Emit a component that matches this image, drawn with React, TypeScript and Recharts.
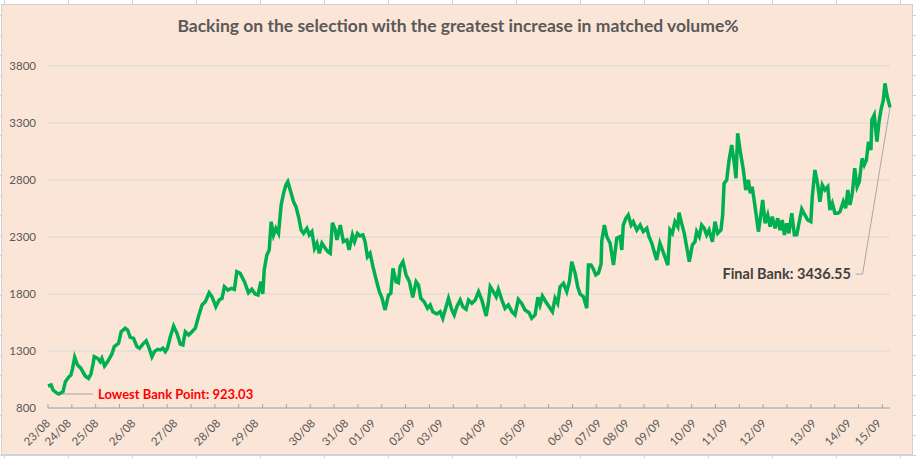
import React from 'react';
import { LineChart, Line, XAxis, YAxis, CartesianGrid, ReferenceLine } from 'recharts';

// running bank after each bet (x = bet number)
const betNumbers = [
  0, 13, 21, 38, 45, 63, 73, 86, 96, 103, 112, 124, 138, 156, 170, 180, 189, 194, 208, 219,
  226, 237, 247, 258, 268, 278, 296, 307, 324, 334, 345, 359, 373, 384, 398, 412, 422, 436, 446, 460,
  471, 482, 492, 501, 513, 527, 541, 555, 566, 576, 590, 604, 618, 631, 646, 660, 676, 688, 704, 718,
  730, 740, 755, 769, 782, 792, 806, 824, 841, 855, 869, 881, 893, 901, 907, 918, 928, 936, 946, 956,
  967, 978, 988, 998, 1006, 1016, 1030, 1040, 1051, 1062, 1072, 1086, 1096, 1107, 1118, 1128, 1138, 1149, 1163, 1174,
  1184, 1193, 1205, 1212, 1226, 1239, 1254, 1263, 1277, 1286, 1298, 1309, 1321, 1330, 1340, 1351, 1363, 1377, 1390, 1400,
  1414, 1428, 1438, 1447, 1460, 1470, 1477, 1489, 1502, 1516, 1530, 1544, 1554, 1564, 1578, 1592, 1603, 1614, 1631, 1645,
  1656, 1670, 1680, 1694, 1704, 1715, 1729, 1740, 1754, 1764, 1778, 1792, 1806, 1820, 1838, 1847, 1855, 1868, 1880, 1889,
  1904, 1917, 1931, 1946, 1959, 1973, 1987, 2001, 2018, 2029, 2043, 2055, 2064, 2074, 2088, 2102, 2116, 2127, 2138, 2148,
  2162, 2176, 2187, 2197, 2211, 2222, 2232, 2246, 2260, 2267, 2278, 2288, 2298, 2309, 2320, 2323, 2334, 2344, 2358, 2372,
  2386, 2400, 2407, 2413, 2424, 2434, 2446, 2455, 2470, 2484, 2497, 2512, 2521, 2533, 2543, 2553, 2567, 2585, 2600, 2609,
  2619, 2630, 2642, 2647, 2658, 2669, 2679, 2690, 2703, 2714, 2721, 2732, 2742, 2753, 2763, 2773, 2787, 2798, 2809, 2823,
  2830, 2836, 2847, 2857, 2868, 2879, 2886, 2893, 2904, 2917, 2927, 2938, 2946, 2954, 2966, 2980, 2991, 2998, 3008, 3019,
  3029, 3038, 3050, 3061, 3071, 3080, 3089, 3099, 3108, 3120, 3131, 3141, 3150, 3162, 3173, 3187, 3200, 3206, 3217, 3229,
  3238, 3248, 3259, 3271, 3280, 3290, 3301, 3313, 3322, 3336, 3346, 3355, 3364, 3374, 3384, 3394, 3403, 3415, 3424, 3433,
  3442, 3452, 3456, 3466, 3477, 3486, 3494, 3504, 3511, 3519, 3532,
];

const bankValues = [
  993, 1002, 958, 929, 923.03, 943, 1031, 1069, 1089, 1148, 1245, 1177, 1148, 1081, 1060, 1098, 1186, 1250, 1236, 1206,
  1236, 1168, 1197, 1236, 1274, 1338, 1367, 1469, 1499, 1484, 1420, 1411, 1338, 1324, 1361, 1390, 1338, 1250, 1294, 1315,
  1309, 1324, 1294, 1324, 1425, 1519, 1455, 1361, 1353, 1469, 1440, 1469, 1500, 1601, 1703, 1732, 1811, 1776, 1689, 1747,
  1762, 1864, 1835, 1850, 1841, 1996, 1982, 1908, 1811, 1841, 1800, 1791, 1908, 1800, 2011, 2142, 2186, 2434, 2318, 2376,
  2332, 2581, 2683, 2756, 2785, 2712, 2610, 2566, 2478, 2361, 2332, 2376, 2318, 2347, 2201, 2245, 2157, 2245, 2201, 2171,
  2157, 2425, 2361, 2274, 2405, 2259, 2274, 2186, 2318, 2259, 2332, 2309, 2318, 2259, 2127, 2157, 2040, 1923, 1820, 1771,
  1660, 1791, 1806, 2025, 1908, 1899, 2040, 2084, 1967, 1908, 1771, 1908, 1879, 1762, 1732, 1675, 1704, 1645, 1625, 1645,
  1587, 1689, 1762, 1660, 1616, 1689, 1747, 1689, 1666, 1747, 1718, 1747, 1820, 1747, 1607, 1718, 1864, 1820, 1776, 1841,
  1747, 1675, 1704, 1645, 1616, 1753, 1718, 1660, 1636, 1587, 1616, 1771, 1704, 1782, 1732, 1689, 1645, 1762, 1718, 1864,
  1894, 1820, 1908, 2084, 1982, 1864, 1800, 1776, 1675, 2054, 2054, 2017, 1967, 1982, 2063, 2268, 2405, 2303, 2245, 2054,
  2289, 2303, 2186, 2405, 2464, 2493, 2405, 2434, 2361, 2405, 2347, 2376, 2303, 2245, 2171, 2098, 2245, 2142, 2054, 2361,
  2332, 2434, 2390, 2513, 2420, 2332, 2215, 2084, 2230, 2259, 2347, 2303, 2405, 2376, 2318, 2361, 2259, 2434, 2332, 2361,
  2493, 2771, 2800, 2975, 3107, 2946, 2815, 3210, 3049, 2888, 2712, 2800, 2683, 2741, 2566, 2347, 2508, 2625, 2420, 2493,
  2390, 2478, 2376, 2464, 2361, 2449, 2318, 2420, 2332, 2508, 2318, 2320, 2420, 2545, 2500, 2449, 2434, 2654, 2888, 2756,
  2610, 2756, 2712, 2741, 2537, 2595, 2508, 2508, 2522, 2610, 2552, 2712, 2581, 2683, 2903, 2741, 2785, 2990, 2932, 2975,
  3136, 3063, 3326, 3370, 3136, 3311, 3414, 3502, 3648, 3546, 3436.55,
];

// first bet of each day, with its label
const dayLabels = [
  '23/08', '24/08', '25/08', '26/08', '27/08', '28/08', '29/08', '30/08', '31/08', '01/09', '02/09', '03/09',
  '04/09', '05/09', '06/09', '07/09', '08/09', '09/09', '10/09', '11/09', '12/09', '13/09', '14/09', '15/09',
];
const dayStartBets = [
  0, 88, 202, 358, 534, 714, 873, 1112, 1251, 1364, 1532, 1649,
  1830, 1997, 2198, 2312, 2429, 2563, 2710, 2844, 3003, 3213, 3360, 3486,
];

const bankTicks = [800, 1300, 1800, 2300, 2800, 3300, 3800];

const lowestBank = 923.03;
const lowestBet = 45;
const finalBank = 3436.55;
const lastBet = 3532;

const chartData = betNumbers.map((bet, i) => ({ bet, bank: bankValues[i] }));

// tick marks every 100 bets, day labels where a new day starts
const markStep = 100;
const markBets = Array.from({ length: Math.floor(lastBet / markStep) + 1 }, (_, i) => i * markStep);
const allTicks = Array.from(new Set([...markBets, ...dayStartBets])).sort((a, b) => a - b);

const FONT = 'Lato, "Open Sans", sans-serif';
const TEXT = '#595959';

function DayTick(props: any) {
  const { x, y, payload } = props;
  const v = payload.value;
  const idx = dayStartBets.indexOf(v);
  return (
    <g>
      {v % markStep === 0 && <line x1={x} y1={y} x2={x} y2={y - 4} stroke="#a6a6a6" strokeWidth={1} />}
      {idx >= 0 && (
        <text
          transform={`translate(${x + 3},${y + 16}) rotate(-45)`}
          textAnchor="end"
          fontSize={11.5}
          fontFamily={FONT}
          fill={TEXT}
        >
          {dayLabels[idx]}
        </text>
      )}
    </g>
  );
}

export default function App() {
  return (
    <div
      style={{
        position: 'absolute',
        left: 0,
        top: 0,
        width: 916,
        height: 458,
        background: '#fff',
        backgroundImage:
          'repeating-linear-gradient(90deg, transparent 0 4px, #d4d4d4 4px 5px, transparent 5px 64px), repeating-linear-gradient(0deg, transparent 0 2px, #d4d4d4 2px 3px, transparent 3px 20px)',
        overflow: 'hidden',
        fontFamily: FONT,
      }}
    >
      <div
        style={{
          position: 'absolute',
          left: 1,
          top: 4,
          width: 910,
          height: 449,
          background: '#fbe5d6',
          border: '1px solid #d0d0d0',
        }}
      />
      <div
        style={{
          position: 'absolute',
          left: 0,
          top: 15,
          width: 916,
          textAlign: 'center',
          fontSize: 17.5,
          fontWeight: 700,
          color: TEXT,
        }}
      >
        Backing on the selection with the greatest increase in matched volume%
      </div>
      <div style={{ position: 'absolute', left: 0, top: 0 }}>
        <LineChart width={916} height={458} data={chartData} margin={{ top: 66, right: 26, bottom: 0, left: 0 }}>
          <CartesianGrid horizontal vertical={false} stroke="#d9d9d9" />
          <XAxis
            type="number"
            dataKey="bet"
            domain={[0, lastBet]}
            ticks={allTicks}
            interval={0}
            height={50}
            tickSize={0}
            tickMargin={0}
            tickLine={false}
            axisLine={{ stroke: '#a6a6a6' }}
            tick={<DayTick />}
          />
          <YAxis
            type="number"
            domain={[800, 3800]}
            ticks={bankTicks}
            width={48}
            axisLine={false}
            tickLine={false}
            tickMargin={6}
            tick={{ fill: TEXT, fontSize: 11.5, fontFamily: FONT }}
          />
          <ReferenceLine
            segment={[
              { x: lowestBet, y: lowestBank },
              { x: 189, y: lowestBank },
            ]}
            stroke="#a6a6a6"
            strokeWidth={1}
            label={{
              value: `Lowest Bank Point: ${lowestBank}`,
              position: 'right',
              offset: 5,
              fill: '#ff0000',
              fontWeight: 700,
              fontSize: 13,
              fontFamily: FONT,
            }}
          />
          <ReferenceLine
            segment={[
              { x: lastBet, y: finalBank },
              { x: 3417, y: 1975 },
            ]}
            stroke="#a6a6a6"
            strokeWidth={1}
          />
          <ReferenceLine
            segment={[
              { x: 3417, y: 1975 },
              { x: 3389, y: 1975 },
            ]}
            stroke="#a6a6a6"
            strokeWidth={1}
            label={{
              value: `Final Bank: ${finalBank}`,
              position: 'left',
              offset: 5,
              fill: '#404040',
              fontWeight: 700,
              fontSize: 14.5,
              fontFamily: FONT,
            }}
          />
          <Line
            type="linear"
            dataKey="bank"
            stroke="#00b050"
            strokeWidth={3.5}
            dot={false}
            isAnimationActive={false}
          />
        </LineChart>
      </div>
    </div>
  );
}
